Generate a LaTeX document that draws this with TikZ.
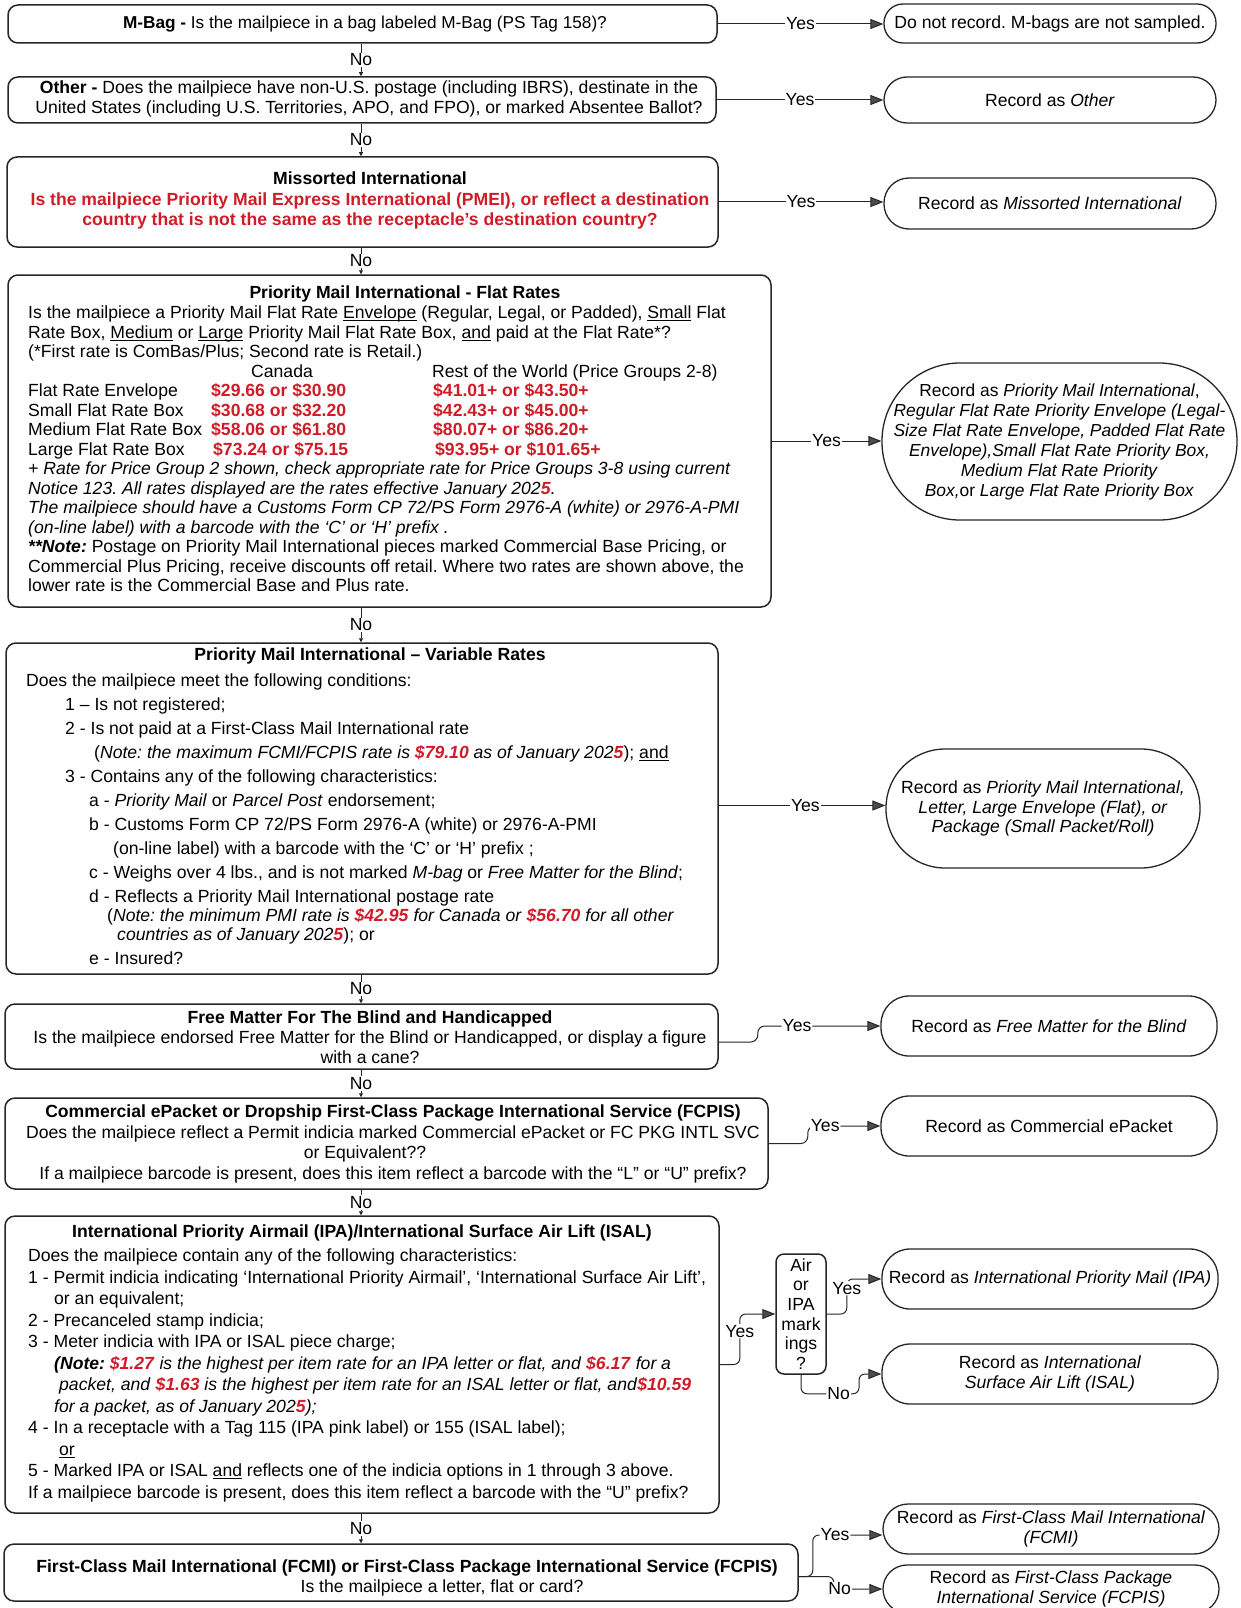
\documentclass[tikz,border=0pt]{standalone}
\usepackage{fontspec}
\setmainfont{Liberation Sans}
\usetikzlibrary{arrows.meta}
\frenchspacing
\definecolor{pr}{RGB}{208,28,40}
\newcommand{\rbi}[1]{\textcolor{pr}{\textbf{\textit{#1}}}}
\newcommand{\rbx}[1]{\textcolor{pr}{\textbf{#1}}}
\newcommand{\fsz}{\fontsize{17.6}{19.5}\selectfont}
\newsavebox{\ulbox}
\newcommand{\uln}[1]{\sbox\ulbox{#1}\rlap{\rule[-2.4pt]{\wd\ulbox}{0.9pt}}\usebox\ulbox}
\tikzset{
  qbox/.style={draw=black!85, line width=1.5pt, rounded corners=10pt, inner sep=0pt},
  rbox/.style={draw=black!85, line width=1.3pt, inner sep=0pt, align=center, font=\fsz},
  txt/.style={inner sep=0pt, align=center, font=\fsz},
  yarr/.style={draw=black!85, line width=1pt, -{Triangle[length=13pt,width=10pt,fill=black!70]}},
  narr/.style={draw=black!85, line width=0.8pt, -{Triangle[length=4pt,width=4pt]}},
  lbl/.style={fill=white, inner sep=1pt, font=\fsz},
}
\begin{document}
\begin{tikzpicture}[x=1pt, y=-1pt, line join=round]
\useasboundingbox (0,0) rectangle (1240,1608);
\fill[white] (0,0) rectangle (1240,1608);
\coordinate (nx) at (361,0);

% question boxes
\node[qbox, minimum width=709pt, minimum height=38pt] (b1) at (362.5,24) {};
\node[qbox, minimum width=708pt, minimum height=46pt] (b2) at (362,100) {};
\node[qbox, minimum width=711pt, minimum height=90pt] (b3) at (362.5,202) {};
\node[qbox, minimum width=763pt, minimum height=332pt] (b4) at (389.5,441) {};
\node[qbox, minimum width=712pt, minimum height=331pt] (b5) at (362,808.5) {};
\node[qbox, minimum width=713pt, minimum height=65pt] (b6) at (361.5,1036.5) {};
\node[qbox, minimum width=763pt, minimum height=91pt] (b7) at (386.5,1143.5) {};
\node[qbox, minimum width=714pt, minimum height=297pt] (b8) at (362,1364.5) {};
\node[qbox, minimum width=794pt, minimum height=57pt] (b9) at (401,1572.5) {};
\node[qbox, rounded corners=8pt, minimum width=50pt, minimum height=120pt, align=center, font=\fontsize{17.6}{19.6}\selectfont] (D) at (801,1314) {Air\\or\\IPA\\mark\\ings\\?};

% texts
\node[txt, font=\fontsize{17.2}{19.5}\selectfont] (t1) at (365,24) {\textbf{M-Bag -} Is the mailpiece in a bag labeled M-Bag (PS Tag 158)?};
\node[txt, font=\fontsize{17.6}{20}\selectfont] (t2) at (369,99) {\textbf{Other -} Does the mailpiece have non-U.S. postage (including IBRS), destinate in the\\United States (including U.S. Territories, APO, and FPO), or marked Absentee Ballot?};
\node[txt, font=\fontsize{17.6}{20.5}\selectfont] (t3) at (370,200.5) {\textbf{Missorted International}\\
\textcolor{pr}{\textbf{Is the mailpiece Priority Mail Express International (PMEI), or reflect a destination}}\\
\textcolor{pr}{\textbf{country that is not the same as the receptacle's destination country?}}};

\node[txt] (h4) at (405,294) {\textbf{Priority Mail International - Flat Rates}};
\node[txt, align=left, anchor=north west] (t4) at (28,306) {Is the mailpiece a Priority Mail Flat Rate \uln{Envelope} (Regular, Legal, or Padded), \uln{Small} Flat\\
Rate Box, \uln{Medium} or \uln{Large} Priority Mail Flat Rate Box, \uln{and} paid at the Flat Rate*?\\
(*First rate is ComBas/Plus; Second rate is Retail.)\\
\hspace*{223pt}\makebox[181pt][l]{Canada}Rest of the World (Price Groups 2-8)\\
\makebox[183pt][l]{Flat Rate Envelope}\makebox[222pt][l]{\rbx{\$29.66 or \$30.90}}\rbx{\$41.01+ or \$43.50+}\\
\makebox[183pt][l]{Small Flat Rate Box}\makebox[222pt][l]{\rbx{\$30.68 or \$32.20}}\rbx{\$42.43+ or \$45.00+}\\
\makebox[183pt][l]{Medium Flat Rate Box}\makebox[222pt][l]{\rbx{\$58.06 or \$61.80}}\rbx{\$80.07+ or \$86.20+}\\
\makebox[185pt][l]{Large Flat Rate Box}\makebox[222pt][l]{\rbx{\$73.24 or \$75.15}}\rbx{\$93.95+ or \$101.65+}\\
\textit{+ Rate for Price Group 2 shown, check appropriate rate for Price Groups 3-8 using current}\\
\textit{Notice 123. All rates displayed are the rates effective January 202}\rbi{5}\textit{.}\\
\textit{The mailpiece should have a Customs Form CP 72/PS Form 2976-A (white) or 2976-A-PMI}\\
\textit{(on-line label) with a barcode with the `C' or `H' prefix .}\\
\textbf{\textit{**Note:}} Postage on Priority Mail International pieces marked Commercial Base Pricing, or\\
Commercial Plus Pricing, receive discounts off retail. Where two rates are shown above, the\\
lower rate is the Commercial Base and Plus rate.};

\node[txt] (h5) at (370,656) {\textbf{Priority Mail International -- Variable Rates}};
\node[txt, align=left, anchor=north west, font=\fontsize{17.6}{23.9}\selectfont] (t5) at (26,674) {Does the mailpiece meet the following conditions:\\
\hspace*{39pt}1 -- Is not registered;\\
\hspace*{39pt}2 - Is not paid at a First-Class Mail International rate\\
\hspace*{68pt}(\textit{Note: the maximum FCMI/FCPIS rate is} \rbi{\$79.10} \textit{as of January 202}\rbi{5}); \uln{and}\\
\hspace*{39pt}3 - Contains any of the following characteristics:\\
\hspace*{63pt}a - \textit{Priority Mail} or \textit{Parcel Post} endorsement;\\
\hspace*{63pt}b - Customs Form CP 72/PS Form 2976-A (white) or 2976-A-PMI\\
\hspace*{87pt}(on-line label) with a barcode with the `C' or `H' prefix ;\\
\hspace*{63pt}c - Weighs over 4 lbs., and is not marked \textit{M-bag} or \textit{Free Matter for the Blind};\\
\hspace*{63pt}d - Reflects a Priority Mail International postage rate\\[-4pt]
\hspace*{81pt}(\textit{Note: the minimum PMI rate is} \rbi{\$42.95} \textit{for Canada or} \rbi{\$56.70} \textit{for all other}\\[-5pt]
\hspace*{91pt}\textit{countries as of January 202}\rbi{5}); or\\
\hspace*{63pt}e - Insured?};

\node[txt, font=\fontsize{17.6}{20}\selectfont] (t6) at (370,1037) {\textbf{Free Matter For The Blind and Handicapped}\\
Is the mailpiece endorsed Free Matter for the Blind or Handicapped, or display a figure\\
with a cane?};

\node[txt, font=\fontsize{17.6}{20.7}\selectfont] (t7) at (393,1144) {\textbf{Commercial ePacket or Dropship First-Class Package International Service (FCPIS)}\\
Does the mailpiece reflect a Permit indicia marked Commercial ePacket or FC PKG INTL SVC\\
\hspace*{-56pt}or Equivalent??\\
If a mailpiece barcode is present, does this item reflect a barcode with the ``L'' or ``U'' prefix?};

\node[txt] (h8) at (362,1233) {\textbf{International Priority Airmail (IPA)/International Surface Air Lift (ISAL)}};
\node[txt, align=left, anchor=north west, font=\fontsize{17.6}{21.5}\selectfont] (t8) at (28,1249) {Does the mailpiece contain any of the following characteristics:\\
1 - Permit indicia indicating `International Priority Airmail', `International Surface Air Lift',\\
\hspace*{26pt}or an equivalent;\\
2 - Precanceled stamp indicia;\\
3 - Meter indicia with IPA or ISAL piece charge;\\
\hspace*{26pt}\textbf{\textit{(Note:}} \rbi{\$1.27} \textit{is the highest per item rate for an IPA letter or flat, and} \rbi{\$6.17} \textit{for a}\\
\hspace*{31pt}\textit{packet, and} \rbi{\$1.63} \textit{is the highest per item rate for an ISAL letter or flat, and}\rbi{\$10.59}\\
\hspace*{26pt}\textit{for a packet, as of January 202}\rbi{5}\textit{);}\\
4 - In a receptacle with a Tag 115 (IPA pink label) or 155 (ISAL label);\\
\hspace*{31pt}\uln{or}\\
5 - Marked IPA or ISAL \uln{and} reflects one of the indicia options in 1 through 3 above.\\
If a mailpiece barcode is present, does this item reflect a barcode with the ``U'' prefix?};

\node[txt] (t9) at (407,1578) {\textbf{First-Class Mail International (FCMI) or First-Class Package International Service (FCPIS)}\\
\hspace*{70pt}Is the mailpiece a letter, flat or card?};

% result boxes
\node[rbox, minimum width=332pt, minimum height=39pt, rounded corners=19pt] (r1) at (1050,23.5) {Do not record. M-bags are not sampled.};
\node[rbox, minimum width=332pt, minimum height=46pt, rounded corners=23pt] (r2) at (1050,100) {Record as \textit{Other}};
\node[rbox, minimum width=332pt, minimum height=51pt, rounded corners=25pt] (r3) at (1050,203.5) {Record as \textit{Missorted International}};
\node[rbox, minimum width=355pt, minimum height=157pt, rounded corners=78pt, font=\fontsize{17.4}{20}\selectfont] (r4) at (1059.5,441.5) {Record as \textit{Priority Mail International},\\
\textit{Regular Flat Rate Priority Envelope (Legal-}\\
\textit{Size Flat Rate Envelope, Padded Flat Rate}\\
\textit{Envelope),Small Flat Rate Priority Box,}\\
\textit{Medium Flat Rate Priority}\\
\textit{Box,}or \textit{Large Flat Rate Priority Box}};
\node[rbox, minimum width=314pt, minimum height=119pt, rounded corners=59pt] (r5) at (1043,808.5) {Record as \textit{Priority Mail International,}\\
\textit{Letter, Large Envelope (Flat), or}\\
\textit{Package (Small Packet/Roll)}};
\node[rbox, minimum width=336pt, minimum height=60pt, rounded corners=28pt] (r6) at (1049,1026) {Record as \textit{Free Matter for the Blind}};
\node[rbox, minimum width=336pt, minimum height=60pt, rounded corners=28pt] (r7) at (1049,1126) {Record as Commercial ePacket};
\node[rbox, minimum width=336pt, minimum height=60pt, rounded corners=28pt] (ripa) at (1050,1279) {Record as \textit{International Priority Mail (IPA)}};
\node[rbox, minimum width=336pt, minimum height=60pt, rounded corners=28pt] (risal) at (1050,1374) {Record as \textit{International}\\\textit{Surface Air Lift (ISAL)}};
\node[rbox, minimum width=336pt, minimum height=50pt, rounded corners=25pt] (r9a) at (1051,1529) {Record as \textit{First-Class Mail International}\\\textit{(FCMI)}};
\node[rbox, minimum width=336pt, minimum height=48pt, rounded corners=24pt] (r9b) at (1051,1589) {Record as \textit{First-Class Package}\\\textit{International Service (FCPIS)}};

% yes connectors
\draw[yarr] (b1.east) -- (b1.east -| r1.west) node[lbl, midway] {Yes};
\draw[yarr] (b2.east) -- (b2.east -| r2.west) node[lbl, midway] {Yes};
\draw[yarr] (b3.east) -- (b3.east -| r3.west) node[lbl, midway] {Yes};
\draw[yarr] (b4.east) -- (b4.east -| r4.west) node[lbl, midway] {Yes};
\draw[yarr] ([yshift=3pt]b5.east) -- ([yshift=3pt]b5.east -| r5.west) node[lbl, pos=0.52] {Yes};
\draw[yarr, rounded corners=7pt] ([yshift=-5.5pt]b6.east) -- ++(39,0) |- (r6.west) node[lbl, pos=0.66] {Yes};
\draw[yarr, rounded corners=7pt] (b7.east) -- ++(39,0) |- (r7.west) node[lbl, pos=0.62] {Yes};
\draw[yarr, rounded corners=6pt] (b8.east) -- ++(20,0) |- (D.west) node[lbl, pos=0.33] {Yes};
\draw[yarr, rounded corners=6pt] (D.east) -- ++(20,0) |- (ripa.west) node[lbl, pos=0.37] {Yes};
\draw[yarr, rounded corners=6pt] (D.south) -- ++(0,19) -- ++(58,0) node[lbl, pos=0.65] {No} |- (risal.west);
\draw[yarr, rounded corners=6pt] ([yshift=-4pt]b9.east) -- ++(14,0) |- ([yshift=-6pt]r9a.west) node[lbl, pos=0.66] {Yes};
\draw[yarr, rounded corners=6pt] ([yshift=-4pt]b9.east) -- ++(35,0) |- (r9b.west) node[lbl, pos=0.56] {No};

% no connectors
\draw[narr] (b1.south -| nx) -- (b2.north -| nx) node[lbl, midway] {No};
\draw[narr] (b2.south -| nx) -- (b3.north -| nx) node[lbl, midway] {No};
\draw[narr] (b3.south -| nx) -- (b4.north -| nx) node[lbl, midway] {No};
\draw[narr] (b4.south -| nx) -- (b5.north -| nx) node[lbl, midway] {No};
\draw[narr] (b5.south -| nx) -- (b6.north -| nx) node[lbl, midway] {No};
\draw[narr] (b6.south -| nx) -- (b7.north -| nx) node[lbl, midway] {No};
\draw[narr] (b7.south -| nx) -- (b8.north -| nx) node[lbl, midway] {No};
\draw[narr] (b8.south -| nx) -- (b9.north -| nx) node[lbl, midway] {No};
\end{tikzpicture}
\end{document}
